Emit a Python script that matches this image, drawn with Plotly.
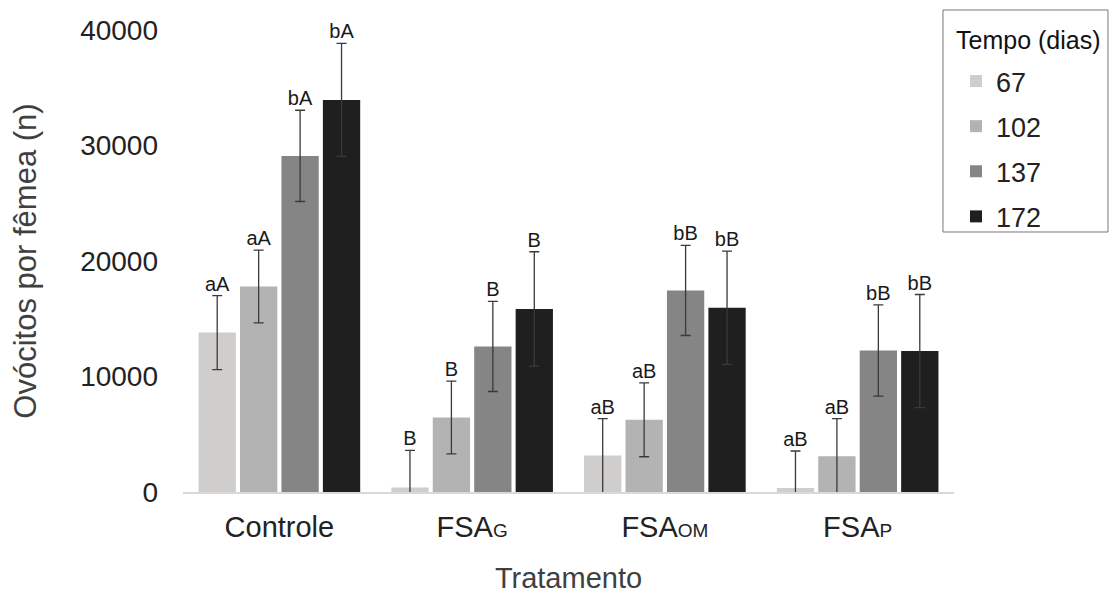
import plotly.graph_objects as go

categories = ["Controle", "FSA<span style='font-size:19px'>G</span>",
              "FSA<span style='font-size:19px'>OM</span>", "FSA<span style='font-size:19px'>P</span>"]
series_names = ["67", "102", "137", "172"]
values = {
    "67":  [13800, 400, 3150, 350],
    "102": [17800, 6450, 6250, 3100],
    "137": [29100, 12600, 17450, 12250],
    "172": [33950, 15850, 15950, 12200],
}
errors = {
    "67":  [3200, 3200, 3200, 3200],
    "102": [3150, 3150, 3200, 3250],
    "137": [3950, 3900, 3900, 3950],
    "172": [4900, 4950, 4900, 4900],
}
letters = {
    "67":  ["aA", "B", "aB", "aB"],
    "102": ["aA", "B", "aB", "aB"],
    "137": ["bA", "B", "bB", "bB"],
    "172": ["bA", "B", "bB", "bB"],
}
colors = {"67": "#d0cdcd", "102": "#b3b3b3", "137": "#858585", "172": "#1f1f1f"}

FONT = "Liberation Sans, Arial, sans-serif"

fig = go.Figure()
for i, s in enumerate(series_names):
    fig.add_trace(go.Bar(
        x=categories, y=values[s], name=s, offsetgroup=s, legendgroup=s,
        marker=dict(color=colors[s], line=dict(width=0)),
        error_y=dict(type="data", array=errors[s], color="#3a3a3a", thickness=1.3, width=5),
    ))
for s in series_names:
    tops = [v + e for v, e in zip(values[s], errors[s])]
    fig.add_trace(go.Scatter(
        x=categories, y=tops, mode="text", text=letters[s], textposition="top center",
        offsetgroup=s, showlegend=False, cliponaxis=False, hoverinfo="skip",
        textfont=dict(family=FONT, size=20, color="#1a1a1a"),
    ))

# legend frame and title
fig.add_shape(type="rect", xref="paper", yref="paper",
              x0=0.9857, x1=1.1997, y0=0.5628, y1=1.0433,
              line=dict(color="#777777", width=1), fillcolor="rgba(0,0,0,0)", layer="above")
fig.add_annotation(xref="paper", yref="paper", x=1.096, y=0.978, text="Tempo (dias)",
                   showarrow=False, xanchor="center", yanchor="middle",
                   font=dict(family=FONT, size=25, color="#111111"))

fig.update_layout(
    width=1109, height=594,
    margin=dict(l=183, r=155, t=30, b=102, autoexpand=False),
    paper_bgcolor="white", plot_bgcolor="white",
    barmode="group", scattermode="group",
    bargap=0.14, bargroupgap=0.1,
    font=dict(family=FONT, color="#333333"),
    xaxis=dict(
        title=dict(text="Tratamento", font=dict(size=29, color="#404040"), standoff=26),
        tickfont=dict(size=29, color="#222222"),
        showline=True, linecolor="#d9d9d9", linewidth=1.5, ticks="",
        ticklabelstandoff=8, automargin=False,
        showgrid=False,
    ),
    yaxis=dict(
        title=dict(text="Ovócitos por fêmea (n)", font=dict(size=31, color="#404040"), standoff=34),
        tickfont=dict(size=28, color="#222222"),
        range=[0, 40000], tickvals=[0, 10000, 20000, 30000, 40000],
        ticktext=["0", "10000", "20000", "30000", "40000"],
        ticklabelstandoff=24, automargin=False,
        showgrid=False, zeroline=False, showline=False, ticks="",
    ),
    legend=dict(
        font=dict(size=27, color="#222222"),
        x=1.0026, y=0.9415, xanchor="left", yanchor="top",
        borderwidth=0, bgcolor="rgba(0,0,0,0)",
        tracegroupgap=7, itemwidth=30,
    ),
    showlegend=True,
)

fig.write_html("out.html")
